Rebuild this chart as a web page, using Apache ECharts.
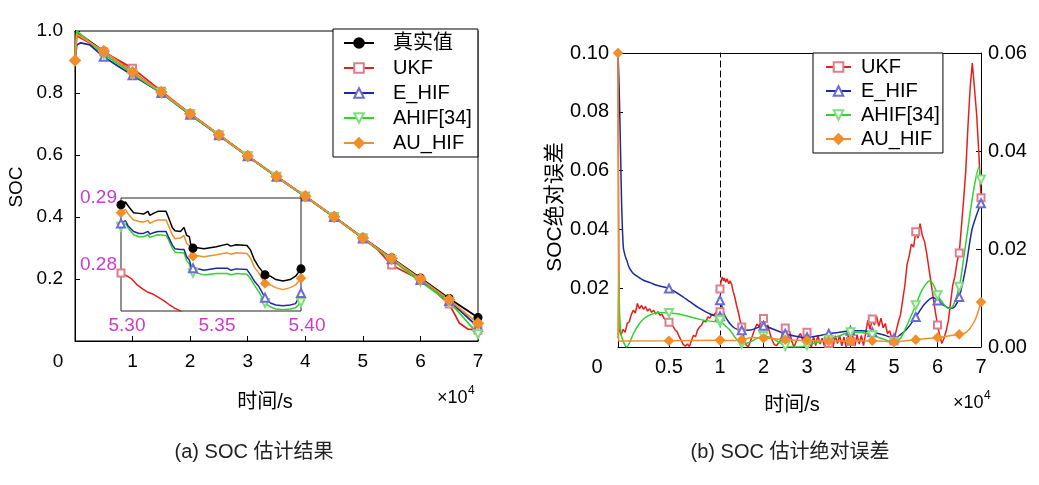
<!DOCTYPE html>
<html><head><meta charset="utf-8">
<script src="https://cdn.jsdelivr.net/npm/echarts@6/dist/echarts.min.js"></script>
<style>html,body{margin:0;padding:0;background:#fff}#c{width:1039px;height:485px}</style>
</head><body><div id="c"></div>
<script>
const F = "'Liberation Sans','Noto Sans CJK SC',sans-serif";
const seriesNames = ['真实值','UKF','E_HIF','AHIF[34]','AU_HIF'];

// ---------- (a) main plot (x in 1e4 s) ----------
const aTrueX = [0, 0.5, 1, 1.5, 2, 2.5, 3, 3.5, 4, 4.5, 5, 5.5, 6, 6.5, 7];
const aTrueY = [1.0, 0.935, 0.868, 0.802, 0.733, 0.665, 0.597, 0.531, 0.467, 0.401, 0.333, 0.268, 0.203, 0.137, 0.076];
const aUkfX = [0, 0.03, 0.25, 0.5, 0.75, 1, 1.25, 1.5, 2, 2.5, 3, 3.5, 4, 4.5, 5, 5.25, 5.5, 5.75, 6, 6.25, 6.5, 6.68, 6.83, 7];
const aUkfY = [0.905, 0.985, 0.962, 0.932, 0.906, 0.880, 0.843, 0.806, 0.733, 0.664, 0.597, 0.531, 0.466, 0.400, 0.332, 0.296, 0.245, 0.221, 0.197, 0.160, 0.119, 0.057, 0.038, 0.035];
const aEhifX = [0, 0.03, 0.1, 0.26, 0.5, 0.75, 1, 1.5, 2, 2.5, 3, 3.5, 4, 4.5, 5, 5.5, 6, 6.5, 6.75, 7];
const aEhifY = [0.905, 0.955, 0.962, 0.955, 0.917, 0.886, 0.857, 0.800, 0.730, 0.664, 0.596, 0.530, 0.466, 0.400, 0.331, 0.264, 0.197, 0.129, 0.088, 0.045];
const aAhifX = [0, 0.03, 0.5, 1, 1.5, 2, 2.5, 3, 3.5, 4, 4.5, 5, 5.5, 6, 6.5, 6.75, 7];
const aAhifY = [0.905, 1.0, 0.925, 0.862, 0.800, 0.731, 0.664, 0.596, 0.530, 0.466, 0.400, 0.331, 0.262, 0.192, 0.126, 0.075, 0.022];
const aAuX = [0, 0.03, 0.5, 1, 1.5, 2, 2.5, 3, 3.5, 4, 4.5, 5, 5.5, 6, 6.5, 7];
const aAuY = [0.905, 0.99, 0.935, 0.867, 0.803, 0.733, 0.665, 0.597, 0.531, 0.467, 0.401, 0.332, 0.266, 0.200, 0.133, 0.057];
const aMarks = [0.5, 1, 1.5, 2, 2.5, 3, 3.5, 4, 4.5, 5, 5.5, 6, 6.5, 7];

// ---------- (a) inset ----------
const inX = [5.300, 5.3025, 5.304, 5.307, 5.310, 5.3125, 5.315, 5.316, 5.318, 5.3205, 5.325, 5.3265, 5.3285, 5.330, 5.333, 5.335, 5.3365, 5.338, 5.339, 5.340, 5.346, 5.353, 5.359, 5.361, 5.364, 5.370, 5.372, 5.374, 5.3765, 5.380, 5.383, 5.386, 5.390, 5.394, 5.397, 5.400];
const inTrueY = [0.2890, 0.2894, 0.2888, 0.2878, 0.2877, 0.2876, 0.2880, 0.2874, 0.2877, 0.2880, 0.2880, 0.2870, 0.2856, 0.2851, 0.2850, 0.2856, 0.2844, 0.2842, 0.2827, 0.2825, 0.2824, 0.2827, 0.2831, 0.2828, 0.2830, 0.2829, 0.2822, 0.2808, 0.2797, 0.2785, 0.2783, 0.2778, 0.2776, 0.2778, 0.2783, 0.2794];
const inAuY = [0.2878, 0.2883, 0.2876, 0.2867, 0.2865, 0.2864, 0.2867, 0.2862, 0.2865, 0.2867, 0.2867, 0.2858, 0.2845, 0.2839, 0.2840, 0.2844, 0.2832, 0.2829, 0.2815, 0.2813, 0.2812, 0.2815, 0.2818, 0.2816, 0.2818, 0.2817, 0.2810, 0.2797, 0.2788, 0.2772, 0.2770, 0.2766, 0.2763, 0.2766, 0.2770, 0.2780];
const inEhifY = [0.2862, 0.2866, 0.2858, 0.2850, 0.2847, 0.2847, 0.2850, 0.2846, 0.2848, 0.2850, 0.2850, 0.2841, 0.2830, 0.2824, 0.2823, 0.2823, 0.2812, 0.2807, 0.2797, 0.2795, 0.2792, 0.2795, 0.2795, 0.2792, 0.2794, 0.2793, 0.2785, 0.2776, 0.2768, 0.2751, 0.2743, 0.2740, 0.2739, 0.2740, 0.2742, 0.2758];
const inAhifY = [0.2857, 0.2862, 0.2855, 0.2845, 0.2842, 0.2842, 0.2845, 0.2841, 0.2843, 0.2845, 0.2844, 0.2837, 0.2825, 0.2819, 0.2818, 0.2818, 0.2806, 0.2801, 0.2790, 0.2788, 0.2785, 0.2787, 0.2787, 0.2785, 0.2787, 0.2786, 0.2779, 0.2770, 0.2760, 0.2743, 0.2737, 0.2734, 0.2733, 0.2734, 0.2736, 0.2744];
const inUkfX = [5.300, 5.303, 5.306, 5.309, 5.312, 5.315, 5.318, 5.321, 5.324, 5.327, 5.330, 5.333, 5.336];
const inUkfY = [0.2788, 0.2784, 0.2779, 0.2770, 0.2764, 0.2759, 0.2756, 0.2751, 0.2746, 0.2740, 0.2735, 0.2731, 0.2725];
const inMarks = [5.30, 5.34, 5.38, 5.40];

// ---------- (b) absolute error, part A: 0..1 (x1e4 s) ----------
const bAUkfX = [0, 0.01, 0.03, 0.05, 0.07, 0.09, 0.11, 0.13, 0.15, 0.17, 0.19, 0.21, 0.23, 0.25, 0.27, 0.29, 0.31, 0.33, 0.35, 0.37, 0.39, 0.41, 0.43, 0.45, 0.47, 0.49, 0.5, 0.52, 0.54, 0.56, 0.58, 0.6, 0.62, 0.64, 0.66, 0.68, 0.7, 0.72, 0.74, 0.76, 0.78, 0.8, 0.82, 0.84, 0.86, 0.88, 0.9, 0.92, 0.94, 0.96, 0.98, 1.0];
const bAUkfY = [0.100, 0.006, 0.004, 0.006, 0.005, 0.008, 0.0085, 0.011, 0.0125, 0.0115, 0.0148, 0.013, 0.0142, 0.0128, 0.0138, 0.0122, 0.0130, 0.0118, 0.0125, 0.0112, 0.0120, 0.0108, 0.0112, 0.0098, 0.0092, 0.0085, 0.0084, 0.0075, 0.0070, 0.0058, 0.0052, 0.0035, 0.0022, 0.0008, 0.0003, 0.0010, 0.0002, 0.0022, 0.0040, 0.0035, 0.0058, 0.0068, 0.0075, 0.0090, 0.0085, 0.0102, 0.0098, 0.0112, 0.0108, 0.0118, 0.0125, 0.0120];
const bAEhifX = [0, 0.01, 0.02, 0.026, 0.036, 0.052, 0.07, 0.085, 0.11, 0.15, 0.2, 0.25, 0.32, 0.38, 0.5, 0.64, 0.8, 0.93, 1.0];
const bAEhifY = [0.100, 0.090, 0.075, 0.065, 0.048, 0.034, 0.031, 0.0296, 0.027, 0.025, 0.0238, 0.0227, 0.0218, 0.021, 0.0199, 0.017, 0.0131, 0.0108, 0.0105];
const bAAhifX = [0, 0.008, 0.015, 0.03, 0.05, 0.085, 0.12, 0.15, 0.2, 0.25, 0.3, 0.4, 0.5, 0.6, 0.7, 0.8, 0.9, 1.0];
const bAAhifY = [0.003, 0.026, 0.012, 0.0046, 0.002, 0.0, 0.002, 0.0045, 0.0075, 0.0095, 0.0107, 0.0117, 0.0116, 0.0112, 0.0103, 0.0094, 0.0088, 0.0085];
const bAAuX = [0, 0.006, 0.03, 0.5, 1.0];
const bAAuY = [0.100, 0.002, 0.002, 0.0021, 0.0023];
const bAMarks = [0.5, 1.0];

// ---------- (b) part B: 1..7 ----------
const bBUkfX = [1.0, 1.02, 1.05, 1.08, 1.1, 1.13, 1.16, 1.2, 1.23, 1.27, 1.3, 1.34, 1.38, 1.42, 1.46,
 1.50, 1.55, 1.60, 1.65, 1.70, 1.75, 1.80, 1.85, 1.90, 1.95, 2.00, 2.05, 2.10, 2.15, 2.20, 2.25, 2.30, 2.35, 2.40, 2.45,
 2.50, 2.55, 2.60, 2.65, 2.70, 2.75, 2.80, 2.85, 2.90, 2.95, 3.00, 3.05, 3.10, 3.15, 3.20, 3.25, 3.30, 3.35, 3.40, 3.45,
 3.50, 3.55, 3.60, 3.65, 3.70, 3.75, 3.80, 3.85, 3.90, 3.95, 4.00, 4.05, 4.10, 4.15, 4.20, 4.25, 4.30, 4.35, 4.40, 4.45,
 4.50, 4.55, 4.60, 4.65, 4.70, 4.75, 4.80, 4.85, 4.90, 4.95, 5.00, 5.05, 5.10, 5.15, 5.20, 5.25, 5.30, 5.35, 5.40, 5.45,
 5.50, 5.55, 5.60, 5.65, 5.70, 5.75, 5.80, 5.85, 5.90, 5.95, 6.00, 6.05, 6.10, 6.15, 6.20, 6.25, 6.30, 6.35, 6.40, 6.45,
 6.50, 6.55, 6.60, 6.65, 6.70, 6.75, 6.80, 6.85, 6.90, 6.95, 7.00];
const bBUkfY = [0.0197, 0.022, 0.0238, 0.0225, 0.0235, 0.022, 0.0232, 0.0215, 0.0225, 0.0212, 0.019, 0.017, 0.0142, 0.0119, 0.0092,
 0.0068, 0.0032, 0.0008, 0.0000, 0.0020, 0.0040, 0.0062, 0.0078, 0.0070, 0.0090, 0.0097, 0.0068, 0.0075, 0.0045, 0.0023, 0.0008, 0.0005, 0.0015, 0.0023, 0.0055,
 0.0065, 0.0058, 0.0054, 0.0020, 0.0000, 0.0018, 0.0035, 0.0046, 0.0023, 0.0040, 0.0050, 0.0015, 0.0000, 0.0035, 0.0005, 0.0040, 0.0010, 0.0030, 0.0002, 0.0042,
 0.0012, 0.0036, 0.0000, 0.0038, 0.0012, 0.0040, 0.0004, 0.0034, 0.0000, 0.0041, 0.0019, 0.0037, 0.0003, 0.0042, 0.0010, 0.0039, 0.0005, 0.0050, 0.0091, 0.0060,
 0.0095, 0.0075, 0.0105, 0.0070, 0.0098, 0.0065, 0.0080, 0.0045, 0.0055, 0.0030, 0.0020, 0.0055, 0.0085, 0.0110, 0.0160, 0.0210, 0.0280, 0.0310, 0.0350, 0.0340,
 0.0392, 0.0370, 0.0420, 0.0380, 0.0360, 0.0320, 0.0270, 0.0220, 0.0170, 0.0120, 0.0075, 0.0040, 0.0012, 0.0030, 0.0055, 0.0090, 0.0150, 0.0210, 0.0240, 0.0290,
 0.0320, 0.0410, 0.0500, 0.0600, 0.0750, 0.0880, 0.0966, 0.0880, 0.0790, 0.0660, 0.0508];
const bBEhifX = [1.0, 1.05, 1.1, 1.2, 1.3, 1.4, 1.5, 1.7, 1.85, 2.0, 2.2, 2.5, 2.8, 3.0, 3.25, 3.5, 3.75, 4.0, 4.25, 4.5, 4.75, 5.0, 5.15, 5.3, 5.5, 5.7, 5.9, 6.0, 6.15, 6.29, 6.4, 6.5, 6.65, 6.79, 6.9, 7.0];
const bBEhifY = [0.0159, 0.0135, 0.011, 0.0085, 0.0068, 0.006, 0.0057, 0.0058, 0.0065, 0.0072, 0.0062, 0.0045, 0.0035, 0.0033, 0.0038, 0.0045, 0.005, 0.0055, 0.0055, 0.005, 0.0042, 0.003, 0.0042, 0.0062, 0.0102, 0.0145, 0.0168, 0.0158, 0.0142, 0.0131, 0.0138, 0.017, 0.027, 0.0398, 0.045, 0.0489];
const bBAhifX = [1.0, 1.1, 1.23, 1.35, 1.5, 1.6, 1.69, 1.8, 2.0, 2.1, 2.23, 2.4, 2.5, 2.65, 2.84, 3.0, 3.07, 3.25, 3.5, 3.75, 4.0, 4.25, 4.5, 4.75, 5.0, 5.15, 5.3, 5.5, 5.65, 5.83, 5.95, 6.0, 6.1, 6.25, 6.35, 6.5, 6.6, 6.75, 6.85, 6.95, 7.0];
const bBAhifY = [0.0091, 0.0075, 0.0057, 0.0032, 0.0011, 0.0012, 0.0017, 0.0025, 0.0037, 0.0035, 0.0028, 0.0012, 0.0003, 0.0, 0.0, 0.0006, 0.001, 0.0016, 0.0025, 0.0038, 0.005, 0.0049, 0.004, 0.0027, 0.0017, 0.003, 0.0075, 0.0142, 0.0195, 0.0225, 0.0198, 0.0176, 0.0155, 0.0131, 0.0138, 0.0205, 0.030, 0.0456, 0.055, 0.061, 0.057];
const bBAuX = [1.0, 1.25, 1.5, 1.75, 2.0, 2.25, 2.5, 2.75, 3.0, 3.5, 4.0, 4.5, 5.0, 5.5, 6.0, 6.5, 6.67, 6.86, 7.0];
const bBAuY = [0.0023, 0.0022, 0.0025, 0.0032, 0.003, 0.0028, 0.0025, 0.0023, 0.0022, 0.002, 0.002, 0.0021, 0.0018, 0.0025, 0.0032, 0.0043, 0.0051, 0.0091, 0.0153];
const bBMarks = [1, 1.5, 2, 2.5, 3, 3.5, 4, 4.5, 5, 5.5, 6, 6.5, 7];

const STY = {
  '真实值':   {color:'#000000', mcolor:'#000000', symbol:'circle', size:8},
  'UKF':      {color:'#e3211c', mcolor:'#dd7f8a', symbol:'emptyRect', size:7},
  'E_HIF':    {color:'#1c2a9e', mcolor:'#6c6cd8', symbol:'emptyTriangle', size:8},
  'AHIF[34]': {color:'#30d330', mcolor:'#7fdf7f', symbol:'emptyTriangle', size:8, rotate:180},
  'AU_HIF':   {color:'#f28e2b', mcolor:'#f28e2b', symbol:'diamond', size:11}
};

function mk(xs, ys, marks) {
  const out = [];
  const n = Math.min(xs.length, ys.length);
  for (let i = 0; i < n; i++) {
    const m = marks.some(v => Math.abs(v - xs[i]) < 1e-6);
    out.push(m ? {value:[xs[i], ys[i]]} : {value:[xs[i], ys[i]], symbol:'none'});
  }
  return out;
}
function ser(name, xi, yi, data, extra) {
  const s = STY[name];
  return Object.assign({
    type:'line', name, xAxisIndex:xi, yAxisIndex:yi, data,
    symbol:s.symbol, symbolSize:s.size, symbolRotate:s.rotate || 0,
    showAllSymbol:true, animation:false, silent:true, clip:true,
    lineStyle:{color:s.color, width:1.5},
    itemStyle:{color:s.mcolor, borderColor:s.mcolor, borderWidth:1.1},
    emphasis:{disabled:true}
  }, extra || {});
}
const thick = {lineStyle:null};

const lab = (fs, extra) => Object.assign({fontSize:fs, color:'#000', fontFamily:F}, extra || {});
const blackLine = {show:true, onZero:false, lineStyle:{color:'#000', width:1}};
const tickIn = {show:true, inside:true, length:5, lineStyle:{color:'#000'}};

function mainSer(name, data, extra) {
  const s = ser(name, 0, 0, data, extra);
  s.lineStyle = {color:STY[name].color, width:1.8};
  return s;
}

const option = {
  backgroundColor:'#fff',
  animation:false,
  textStyle:{fontFamily:F},
  grid:[
    {left:75, top:31, width:403, height:310, show:true, borderColor:'#000', borderWidth:1, backgroundColor:'transparent'},
    {left:121, top:198, width:180, height:113, show:true, borderColor:'#222', borderWidth:1, backgroundColor:'#fff', z:5},
    {left:618, top:53, width:102, height:294},
    {left:720, top:53, width:261, height:294}
  ],
  xAxis:[
    {gridIndex:0, type:'value', min:0, max:7, interval:1, axisLine:blackLine, axisTick:tickIn, splitLine:{show:false},
     axisLabel:lab(19, {margin:11, formatter:v => v === 0 ? '{z|0}' : String(v), rich:{z:{fontSize:19, fontFamily:F, color:'#000', padding:[0,34,0,0]}}})},
    {gridIndex:1, type:'value', min:5.30, max:5.40, axisLine:{show:false}, axisTick:{show:false}, splitLine:{show:false}, z:6,
     axisLabel:lab(19, {margin:5, customValues:[5.30, 5.35, 5.40], formatter:v => '{m|' + v.toFixed(2) + '}', rich:{m:{fontSize:19, fontFamily:F, color:'#cf3acf', padding:[0,0,0,12]}}})},
    {gridIndex:2, type:'value', min:0, max:1, interval:0.5, axisLine:blackLine, axisTick:tickIn, splitLine:{show:false},
     axisLabel:lab(20, {margin:10, formatter:v => v === 0 ? '{z|0}' : (v === 0.5 ? '0.5' : ''), rich:{z:{fontSize:20, fontFamily:F, color:'#000', padding:[0,42,0,0]}}})},
    {gridIndex:2, type:'value', position:'top', min:0, max:1, axisLine:blackLine, axisTick:{show:false}, axisLabel:{show:false}, splitLine:{show:false}},
    {gridIndex:3, type:'value', min:1, max:7, interval:1, axisLine:blackLine, axisTick:tickIn, splitLine:{show:false},
     axisLabel:lab(20, {margin:10})},
    {gridIndex:3, type:'value', position:'top', min:1, max:7, axisLine:blackLine, axisTick:{show:false}, axisLabel:{show:false}, splitLine:{show:false}}
  ],
  yAxis:[
    {gridIndex:0, type:'value', min:0, max:1, interval:0.2, axisLine:blackLine, axisTick:tickIn, splitLine:{show:false},
     axisLabel:lab(19, {margin:12, formatter:v => v === 0 ? '' : v.toFixed(1)})},
    {gridIndex:1, type:'value', min:0.2731, max:0.29, axisLine:{show:false}, axisTick:{show:false}, splitLine:{show:false}, z:6,
     axisLabel:lab(19, {margin:4, color:'#cf3acf', customValues:[0.28, 0.29], formatter:v => v.toFixed(2)})},
    {gridIndex:2, type:'value', min:0, max:0.1, interval:0.02, axisLine:blackLine, axisTick:tickIn, splitLine:{show:false},
     axisLabel:lab(20, {margin:9, formatter:v => v === 0 ? '' : v.toFixed(2)})},
    {gridIndex:2, type:'value', position:'right', min:0, max:0.1, splitLine:{show:false}, axisTick:{show:false}, axisLabel:{show:false},
     axisLine:{show:true, onZero:false, lineStyle:{color:'#000', width:1, type:[6,4]}}},
    {gridIndex:3, type:'value', position:'left', min:0, max:0.1, show:false},
    {gridIndex:3, type:'value', position:'right', min:0, max:0.06, interval:0.02, axisLine:blackLine, axisTick:tickIn, splitLine:{show:false},
     axisLabel:lab(20, {margin:7, formatter:v => v.toFixed(2)})}
  ],
  legend:[
    {data:seriesNames, orient:'vertical', left:333, top:29, padding:[4,6,4,10], itemGap:5, itemWidth:30, itemHeight:12,
     borderColor:'#000', borderWidth:1, backgroundColor:'#fff', selectedMode:false,
     textStyle:{fontSize:20, color:'#000', fontFamily:F, padding:[0,0,0,14]}},
    {data:seriesNames.slice(1), orient:'vertical', left:813, top:53, padding:[4,3,4,12], itemGap:4, itemWidth:25, itemHeight:12,
     borderColor:'#000', borderWidth:1, backgroundColor:'#fff', selectedMode:false,
     textStyle:{fontSize:20, color:'#000', fontFamily:F, padding:[0,0,0,5]}}
  ],
  series:[
    mainSer('真实值', mk(aTrueX, aTrueY, aMarks)),
    mainSer('UKF', mk(aUkfX, aUkfY, aMarks)),
    mainSer('E_HIF', mk(aEhifX, aEhifY, aMarks)),
    mainSer('AHIF[34]', mk(aAhifX, aAhifY, aMarks)),
    mainSer('AU_HIF', mk(aAuX, aAuY, [0].concat(aMarks))),

    ser('UKF', 1, 1, mk(inUkfX, inUkfY, inMarks), {z:7}),
    ser('AHIF[34]', 1, 1, mk(inX, inAhifY, inMarks), {z:7}),
    ser('E_HIF', 1, 1, mk(inX, inEhifY, inMarks), {z:7}),
    ser('AU_HIF', 1, 1, mk(inX, inAuY, inMarks), {z:7, symbolSize:9}),
    ser('真实值', 1, 1, mk(inX, inTrueY, inMarks), {z:7}),

    ser('UKF', 2, 2, mk(bAUkfX, bAUkfY, bAMarks)),
    ser('E_HIF', 2, 2, mk(bAEhifX, bAEhifY, bAMarks), {smooth:0.3}),
    ser('AHIF[34]', 2, 2, mk(bAAhifX, bAAhifY, bAMarks), {smooth:0.3}),
    ser('AU_HIF', 2, 2, mk(bAAuX, bAAuY, [0].concat(bAMarks)), {symbolSize:9}),

    ser('UKF', 4, 4, mk(bBUkfX, bBUkfY, bBMarks)),
    ser('E_HIF', 4, 4, mk(bBEhifX, bBEhifY, bBMarks), {smooth:0.3}),
    ser('AHIF[34]', 4, 4, mk(bBAhifX, bBAhifY, bBMarks), {smooth:0.3}),
    ser('AU_HIF', 4, 4, mk(bBAuX, bBAuY, bBMarks), {smooth:0.3, symbolSize:9})
  ],
  graphic:[
    {type:'text', x:17, y:187, rotation:Math.PI/2, style:{text:'SOC', fontSize:19, fontFamily:F, fill:'#000', textAlign:'center', textVerticalAlign:'middle'}},
    {type:'text', x:265, y:402, style:{text:'时间/s', fontSize:20, fontFamily:F, fill:'#000', textAlign:'center', textVerticalAlign:'middle'}},
    {type:'text', x:437, y:398, style:{text:'×10', fontSize:18, fontFamily:F, fill:'#000', textAlign:'left', textVerticalAlign:'middle'}},
    {type:'text', x:468, y:391, style:{text:'4', fontSize:12, fontFamily:F, fill:'#000', textAlign:'left', textVerticalAlign:'middle'}},
    {type:'text', x:555, y:207, rotation:Math.PI/2, style:{text:'SOC绝对误差', fontSize:21, fontFamily:F, fill:'#000', textAlign:'center', textVerticalAlign:'middle'}},
    {type:'text', x:792, y:405, style:{text:'时间/s', fontSize:20, fontFamily:F, fill:'#000', textAlign:'center', textVerticalAlign:'middle'}},
    {type:'text', x:953, y:403, style:{text:'×10', fontSize:18, fontFamily:F, fill:'#000', textAlign:'left', textVerticalAlign:'middle'}},
    {type:'text', x:984, y:396, style:{text:'4', fontSize:12, fontFamily:F, fill:'#000', textAlign:'left', textVerticalAlign:'middle'}},
    {type:'text', x:254, y:452, style:{text:'(a) SOC 估计结果', fontSize:20, fontFamily:F, fill:'#222', textAlign:'center', textVerticalAlign:'middle'}},
    {type:'text', x:790, y:452, style:{text:'(b) SOC 估计绝对误差', fontSize:20, fontFamily:F, fill:'#222', textAlign:'center', textVerticalAlign:'middle'}}
  ]
};
const chart = echarts.init(document.getElementById('c'), null, {renderer:'canvas'});
chart.setOption(option);
</script>
</body></html>
